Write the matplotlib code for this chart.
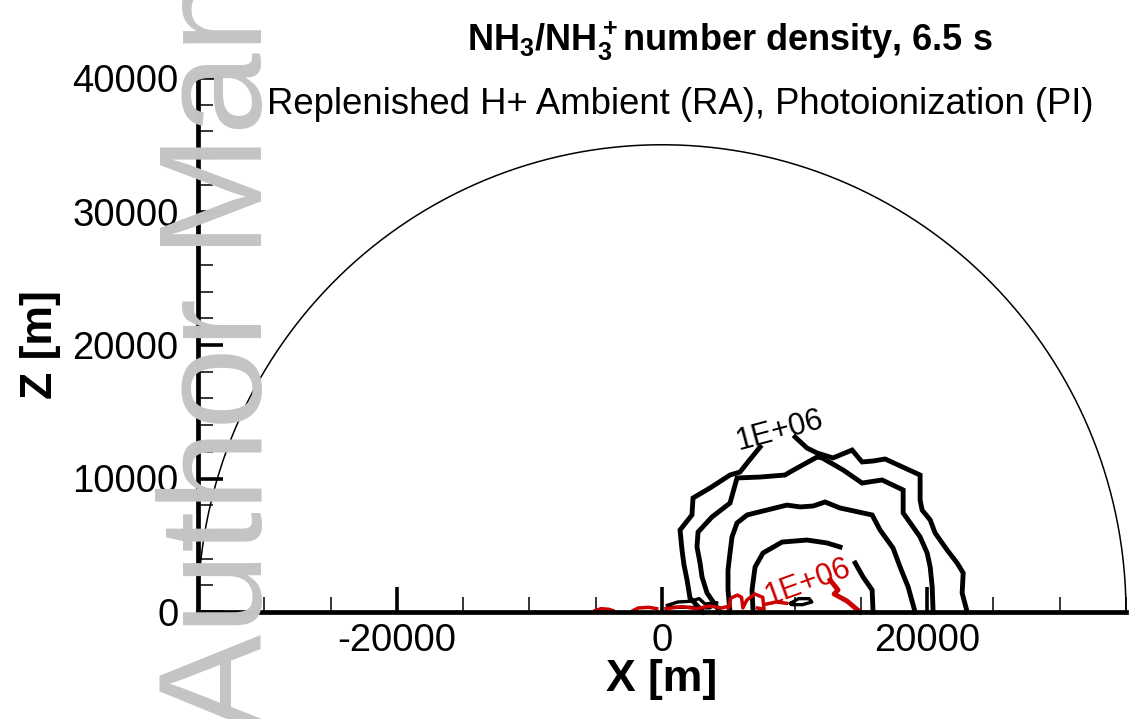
import numpy as np
import matplotlib
matplotlib.use("Agg")
import matplotlib.pyplot as plt
from matplotlib.ticker import MultipleLocator

plt.rcParams["font.family"] = ["Liberation Sans", "DejaVu Sans"]
plt.rcParams["mathtext.default"] = "regular"
plt.rcParams["axes.unicode_minus"] = False

# domain boundary radius [m]
radius = 35000

# black contour lines (x, z in metres)
c1_left_x = [3100, 2110, 1890, 1660, 1510, 1360, 2260, 2340, 3620, 5130, 5890, 6420, 7400]
c1_left_z = [0, 1050, 2400, 3520, 4640, 6140, 7270, 8540, 9290, 10260, 10490, 11160, 12360]
c1_right_x = [10040, 10940, 11700, 12900, 14340, 15090, 15920, 16830, 19470, 19470,
              19620, 20230, 20600, 21510, 22260, 22720, 22640, 23020]
c1_right_z = [13110, 12280, 11910, 11540, 12130, 11240, 11310, 11460, 10260, 8390,
              7640, 6890, 5920, 4640, 3670, 2920, 1420, 0]

c2_x = [4380, 3400, 3020, 2870, 2640, 2720, 3770, 5130, 5660, 7400, 9280, 9660, 11700,
        12080, 13660, 15090, 16600, 18190, 18190, 18940, 19470, 20000, 20230, 20380, 20450]
c2_z = [0, 1420, 2620, 3670, 4870, 5990, 7120, 8160, 10040, 10110, 10260, 10490, 11610,
        11540, 10640, 9660, 9890, 9140, 7420, 6370, 5620, 4420, 3370, 1870, 0]

c3_x = [5130, 4980, 4980, 5130, 5280, 5660, 6420, 7920, 9430, 10420, 11400, 12300,
        13430, 15850, 16450, 17430, 17960, 18570, 19090]
c3_z = [0, 1650, 3150, 4420, 5620, 6670, 7270, 7640, 8010, 7870, 7940, 8240,
        7790, 7270, 6140, 4790, 3370, 1870, 0]

c4_left_x = [6870, 6790, 7020, 7620, 9060, 10940, 12450, 13430]
c4_left_z = [0, 1650, 3370, 4420, 5240, 5390, 5170, 4870]
c4_right_x = [14570, 15170, 15850, 15920]
c4_right_z = [3670, 2620, 1650, 0]

# small black loops near the ground
feet_x = [400, 1200, 2100, 2800, 3250, 4150, 3600, 2100, 600]
feet_z = [500, 750, 800, 1000, 600, 700, 300, 350, 350]
loop_x = [9700, 10300, 11100, 11300, 10600, 9800, 9700]
loop_z = [650, 1000, 1000, 750, 550, 550, 650]

# red contour lines
red_line_x = [12680, 13280, 12980, 13960, 14940]
red_line_z = [2400, 1650, 1350, 820, 0]
red_blobs = [
    ([-5050, -4600, -4000, -3700], [100, 250, 200, 100]),
    ([-2190, -1800, -1000, -400], [100, 300, 350, 250]),
    ([300, 1500, 2600, 3600, 4500, 5100], [250, 400, 250, 450, 300, 450]),
    ([5000, 5200, 5700, 6000, 6100, 6400, 7000, 7600, 7700, 7200],
     [300, 1050, 1270, 1100, 300, 900, 1350, 1100, 200, 300]),
    ([7900, 8600, 9400], [600, 750, 650]),
]

black_label = "1E+06"
red_label = "1E+06"

fig = plt.figure(figsize=(11.36, 7.19), dpi=100)
ax = fig.add_axes([198 / 1136, 107 / 719, 928 / 1136, 534 / 719])

# watermark
fig.text(262 / 1136, -13 / 719, "Author Manuscript", rotation=90, rotation_mode="anchor",
         ha="left", va="baseline", fontsize=106, color="#c4c4c4", zorder=0)

theta = np.linspace(0, np.pi, 400)
ax.plot(radius * np.cos(theta), radius * np.sin(theta), color="black", lw=1.1, clip_on=False)

lw = 3.5
for xs, zs in [(c1_left_x, c1_left_z), (c1_right_x, c1_right_z), (c2_x, c2_z),
               (c3_x, c3_z), (c4_left_x, c4_left_z), (c4_right_x, c4_right_z)]:
    ax.plot(xs, zs, color="black", lw=lw, solid_joinstyle="miter", clip_on=False)
ax.plot(feet_x, feet_z, color="black", lw=2.4)
ax.plot(loop_x, loop_z, color="black", lw=2.4)

red = "#cc0000"
ax.plot(red_line_x, red_line_z, color=red, lw=lw, clip_on=False)
for xs, zs in red_blobs:
    ax.plot(xs, zs, color=red, lw=2.5)

ax.text(8900, 13550, black_label, rotation=15, ha="center", va="center", fontsize=22)
ax.text(11020, 2250, red_label, rotation=20, ha="center", va="center", fontsize=22, color=red)

ax.set_xlim(-35000, 35000)
ax.set_ylim(0, 40000)
for s in ["top", "right"]:
    ax.spines[s].set_visible(False)
for s in ["left", "bottom"]:
    ax.spines[s].set_linewidth(3.4)

ax.xaxis.set_major_locator(MultipleLocator(20000))
ax.xaxis.set_minor_locator(MultipleLocator(5000))
ax.yaxis.set_major_locator(MultipleLocator(10000))
ax.yaxis.set_minor_locator(MultipleLocator(2000))
ax.tick_params(which="major", direction="in", length=18, width=2.6, labelsize=27.5)
ax.tick_params(which="minor", direction="in", length=10.5, width=1.1)
ax.tick_params(axis="x", which="major", pad=8)
ax.tick_params(axis="y", which="major", pad=14)

ax.set_xlabel("X [m]", fontsize=32, fontweight="bold", labelpad=0)
ax.set_ylabel("Z [m]", fontsize=32, fontweight="bold", labelpad=8)

narrow = ["Liberation Sans Narrow", "Liberation Sans"]
fig.text(730 / 1136, 1 - 41 / 719, "NH$_3$/NH$_3^+$number density, 6.5 s", family=narrow,
         fontweight="bold", fontsize=26, ha="center", va="center")
fig.text(680 / 1136, 1 - 104 / 719, "Replenished H+ Ambient (RA), Photoionization (PI)",
         family=narrow, fontsize=26.3, ha="center", va="center")

fig.savefig("out.png", dpi=100)
